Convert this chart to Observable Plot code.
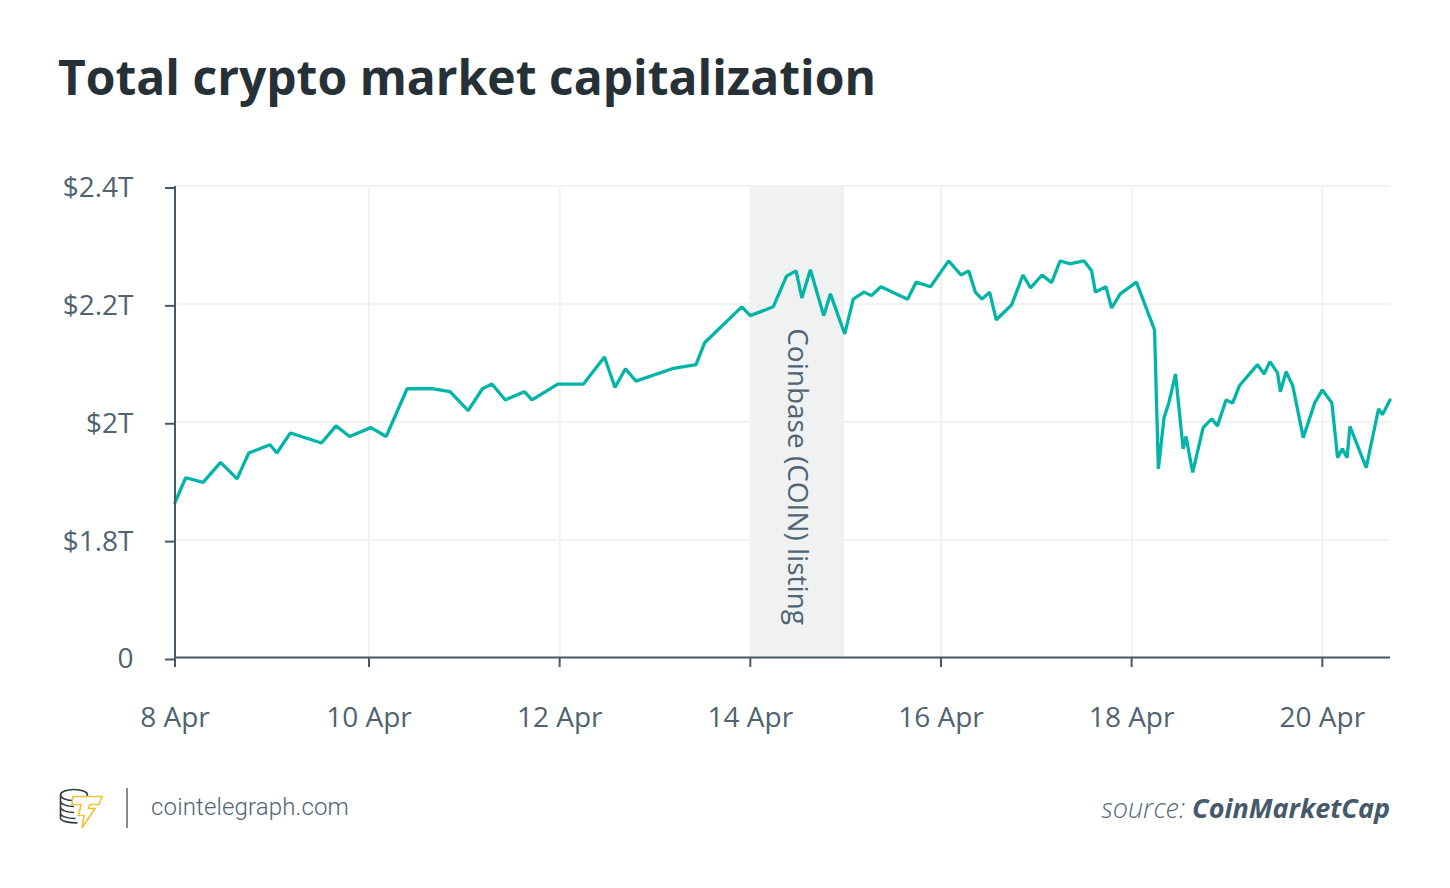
<!DOCTYPE html>
<html lang="en">
<head>
<meta charset="utf-8">
<title>Total crypto market capitalization</title>
<script src="https://cdn.jsdelivr.net/npm/d3@7"></script>
<script src="https://cdn.jsdelivr.net/npm/@observablehq/plot@0.6"></script>
<style>
  html, body { margin: 0; padding: 0; background: #fff; width: 1450px; height: 888px; overflow: hidden; }
  #title { position: absolute; left: 58px; top: 44px; margin: 0; font: 700 48px/66px "Open Sans", sans-serif; color: #253137; white-space: nowrap; }
  #chart { position: absolute; left: 0; top: 140px; }
  #chart svg { display: block; }
  #logo { position: absolute; left: 58px; top: 786px; }
  #rulebar { position: absolute; left: 126px; top: 788px; width: 2px; height: 40px; background: #8a8d8f; }
  #site { position: absolute; left: 151px; top: 792px; font: 300 24px/30px Roboto, sans-serif; letter-spacing: 0.15px; color: #4f6472; white-space: nowrap; }
  #source { position: absolute; right: 60px; top: 790px; font: italic 300 27px/36px "Open Sans", sans-serif; color: #56697a; white-space: nowrap; }
  #source b { font-weight: 700; color: #46596a; }
</style>
</head>
<body>
<h1 id="title">Total crypto market capitalization</h1>
<div id="chart"></div>
<svg id="logo" width="46" height="44" viewBox="0 0 46 44" fill="none">
  <g stroke="#2f3a40" stroke-width="1.6">
    <ellipse cx="16" cy="9" rx="13.5" ry="5.5"/>
    <path d="M2.5 9v6c0 3 6 5.5 13.5 5.5M2.5 15v6c0 3 6 5.5 13.5 5.5M2.5 21v6c0 3 6 5.5 15 5.5M2.5 27v5c0 3 8 5 17 5"/>
  </g>
  <path d="M15 10.5H44L41 18.5H32L30.5 22.5H37L24 42L26 29.5H20.5L23 18.5H14Z" fill="#fff" stroke="#f5c33b" stroke-width="1.7" stroke-linejoin="miter"/>
</svg>
<div id="rulebar"></div>
<div id="site">cointelegraph.com</div>
<div id="source">source: <b>CoinMarketCap</b></div>
<script>
const days = [8.00,8.11,8.29,8.47,8.64,8.76,8.98,9.05,9.19,9.51,9.66,9.80,10.02,10.18,10.40,10.66,10.85,11.04,11.19,11.29,11.43,11.63,11.71,11.98,12.25,12.47,12.58,12.69,12.80,13.18,13.43,13.52,13.91,14.00,14.24,14.38,14.48,14.54,14.63,14.77,14.84,14.99,15.08,15.19,15.27,15.37,15.65,15.74,15.89,16.08,16.21,16.29,16.36,16.43,16.51,16.58,16.74,16.86,16.94,17.06,17.16,17.25,17.35,17.50,17.58,17.62,17.73,17.79,17.88,18.05,18.24,18.28,18.34,18.39,18.46,18.54,18.57,18.64,18.75,18.84,18.90,18.99,19.06,19.13,19.32,19.39,19.45,19.53,19.56,19.62,19.69,19.80,19.92,20.00,20.10,20.16,20.21,20.26,20.29,20.46,20.59,20.63,20.71];
const capTrillions = [1.863,1.905,1.897,1.931,1.903,1.947,1.961,1.947,1.981,1.964,1.993,1.975,1.990,1.975,2.056,2.056,2.051,2.019,2.056,2.064,2.037,2.051,2.037,2.064,2.064,2.110,2.058,2.090,2.069,2.090,2.097,2.134,2.195,2.180,2.195,2.247,2.256,2.210,2.258,2.180,2.217,2.149,2.208,2.220,2.214,2.229,2.208,2.237,2.229,2.273,2.249,2.256,2.220,2.208,2.220,2.173,2.198,2.249,2.227,2.249,2.236,2.273,2.268,2.273,2.256,2.220,2.229,2.193,2.217,2.237,2.156,1.920,2.007,2.032,2.081,1.954,1.975,1.914,1.990,2.005,1.993,2.037,2.032,2.061,2.097,2.081,2.102,2.083,2.051,2.085,2.061,1.973,2.032,2.054,2.032,1.939,1.954,1.939,1.992,1.922,2.022,2.012,2.037];
const xTicks = [8,10,12,14,16,18,20];
const xLabels = ["8 Apr","10 Apr","12 Apr","14 Apr","16 Apr","18 Apr","20 Apr"];
const yTicks = [1.6,1.8,2.0,2.2,2.4];
const yLabels = ["0","$1.8T","$2T","$2.2T","$2.4T"];
const listingSpan = [14, 14.99];
const listingLabel = "Coinbase (COIN) listing";
const series = days.map((d, i) => ({day: d, cap: capTrillions[i]}));
const AXIS = "#445a68", GRID = "#f1f2f2", TEXT = "#4f6370", FONT = '"Open Sans", sans-serif';

const plot = Plot.plot({
  width: 1450,
  height: 620,
  marginTop: 46,
  marginBottom: 102,
  marginLeft: 175,
  marginRight: 60,
  style: {background: "transparent", fontFamily: FONT, overflow: "visible"},
  x: {type: "linear", domain: [8, 10, 20.71], range: [174.5, 368.5, 1389.5]},
  y: {type: "linear", domain: [1.6, 2.4], range: [517, 45.5]},
  marks: [
    Plot.gridX(xTicks, {stroke: GRID, strokeOpacity: 1, strokeWidth: 2}),
    Plot.gridY(yTicks, {stroke: GRID, strokeOpacity: 1, strokeWidth: 2}),
    Plot.rect([listingSpan], {x1: d => d[0], x2: d => d[1], y1: 1.6, y2: 2.4, fill: "#f0f2f2"}),
    Plot.line(series, {x: "day", y: "cap", stroke: "#03b5a7", strokeWidth: 3.3, strokeLinejoin: "miter", curve: "linear"}),
    Plot.text([listingLabel], {x: 14.49, y: 1.907, text: d => d, rotate: 90, fontSize: 28, fill: TEXT, fontFamily: FONT, textAnchor: "middle"}),
    Plot.ruleX([8], {stroke: AXIS, strokeWidth: 2}),
    Plot.ruleY([1.6], {stroke: AXIS, strokeWidth: 2}),
    Plot.axisX({ticks: xTicks, tickFormat: d => xLabels[xTicks.indexOf(d)], tickSize: 9, tickPadding: 51, stroke: AXIS, strokeWidth: 2, strokeOpacity: 1, fontSize: 28, fill: TEXT, fontVariant: "normal", label: null, lineAnchor: "middle", textAnchor: "middle"}),
    Plot.axisY({ticks: yTicks, tickFormat: d => yLabels[yTicks.indexOf(d)], tickSize: 10, tickPadding: 32, stroke: AXIS, strokeWidth: 2, strokeOpacity: 1, fontSize: 28, fill: TEXT, fontVariant: "normal", label: null, lineHeight: 1, textStroke: "none", dy: 2})
  ]
});
document.getElementById("chart").appendChild(plot);
</script>
</body>
</html>
